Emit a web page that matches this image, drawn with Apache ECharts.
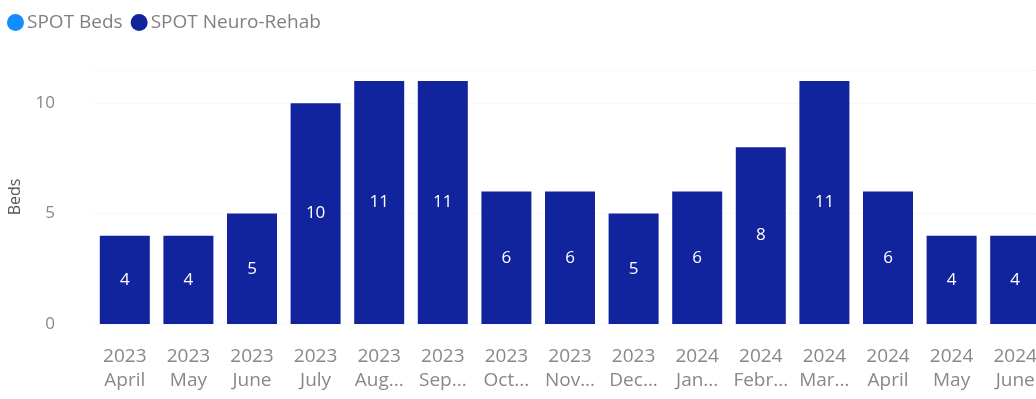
<!DOCTYPE html>
<html>
<head>
<meta charset="utf-8">
<script src="https://cdn.jsdelivr.net/npm/echarts@6/dist/echarts.min.js"></script>
<style>
  html, body { margin: 0; padding: 0; background: #ffffff; }
  #chart { width: 1036px; height: 399px; }
</style>
</head>
<body>
<div id="chart"></div>
<script>
// Monthly bed counts, April 2023 – June 2024
const years = ['2023', '2023', '2023', '2023', '2023', '2023', '2023', '2023', '2023',
               '2024', '2024', '2024', '2024', '2024', '2024'];
const months = ['April', 'May', 'June', 'July', 'Aug...', 'Sep...', 'Oct...', 'Nov...', 'Dec...',
                'Jan...', 'Febr...', 'Mar...', 'April', 'May', 'June'];
const spotBeds = [];
const spotNeuroRehab = [4, 4, 5, 10, 11, 11, 6, 6, 5, 6, 8, 11, 6, 4, 4];
const yTicks = [0, 5, 10];

const categories = years.map((y, i) => y + '\n' + months[i]);
const FONT = '"Open Sans", "Noto Sans", sans-serif';

const chart = echarts.init(document.getElementById('chart'), null, { renderer: 'canvas' });
chart.setOption({
  animation: false,
  textStyle: { fontFamily: FONT },
  legend: {
    left: 2,
    top: 8,
    itemWidth: 17,
    itemHeight: 17,
    itemGap: 8,
    icon: 'circle',
    textStyle: { color: '#808080', fontSize: 19, fontFamily: FONT, padding: [0, 0, 0, -2] },
    data: ['SPOT Beds', 'SPOT Neuro-Rehab']
  },
  grid: { left: 93, right: -11, top: 70, bottom: 75, outerBoundsMode: 'none' },
  xAxis: {
    type: 'category',
    data: categories,
    axisLine: { show: false },
    axisTick: { show: false },
    axisLabel: {
      color: '#888888',
      fontSize: 19,
      lineHeight: 24,
      margin: 21,
      interval: 0,
      fontFamily: FONT
    }
  },
  yAxis: {
    type: 'value',
    min: 0,
    max: 11.5,
    interval: 5,
    name: 'Beds',
    nameLocation: 'middle',
    nameGap: 70,
    nameRotate: 90,
    nameTextStyle: { color: '#555555', fontSize: 16, fontFamily: FONT },
    axisLine: { show: false },
    axisTick: { show: false },
    axisLabel: {
      color: '#888888',
      fontSize: 17,
      margin: 38,
      showMaxLabel: false,
      fontFamily: FONT,
      formatter: v => (yTicks.indexOf(v) >= 0 ? String(v) : '')
    },
    splitLine: { show: true, lineStyle: { color: '#f2f2f2', type: 'dotted', width: 1 } }
  },
  series: [
    {
      name: 'SPOT Beds',
      type: 'bar',
      stack: 'beds',
      itemStyle: { color: '#118DFF' },
      data: spotBeds
    },
    {
      name: 'SPOT Neuro-Rehab',
      type: 'bar',
      stack: 'beds',
      barWidth: 50,
      itemStyle: { color: '#12239E' },
      label: {
        show: true,
        position: 'inside',
        color: '#ffffff',
        fontSize: 17,
        fontFamily: FONT
      },
      data: spotNeuroRehab
    }
  ]
});
</script>
</body>
</html>
